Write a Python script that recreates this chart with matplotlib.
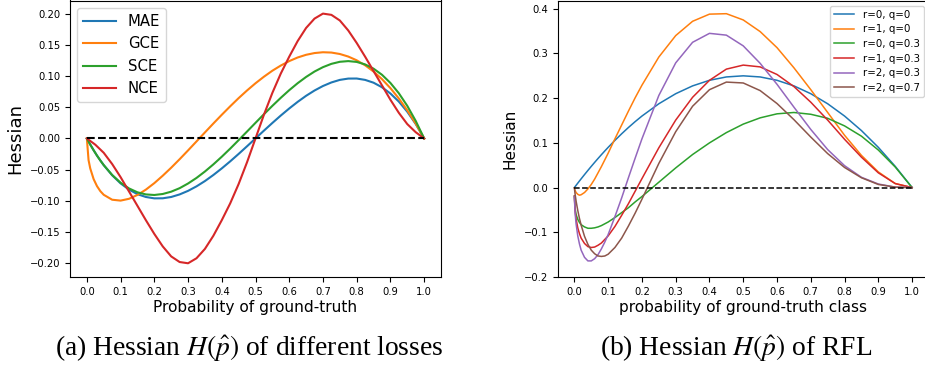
import numpy as np
import matplotlib
matplotlib.use("Agg")
import matplotlib.pyplot as plt

plt.rcParams['mathtext.fontset'] = 'stix'

# (a) Hessian of the different losses
p_left = [0.0, 0.005, 0.01, 0.02, 0.03, 0.04, 0.05, 0.075, 0.1, 0.125, 0.15, 0.175,
          0.2, 0.225, 0.25, 0.275, 0.3, 0.325, 0.35, 0.375, 0.4, 0.425, 0.45, 0.475,
          0.5, 0.525, 0.55, 0.575, 0.6, 0.625, 0.65, 0.675, 0.7, 0.725, 0.75, 0.775,
          0.8, 0.825, 0.85, 0.875, 0.9, 0.925, 0.95, 0.975, 1.0]
mae = [0.0, -0.0049, -0.0097, -0.0188, -0.0274, -0.0353, -0.0428, -0.0590, -0.0720,
       -0.0820, -0.0893, -0.0938, -0.0960, -0.0959, -0.0938, -0.0897, -0.0840, -0.0768,
       -0.0683, -0.0586, -0.0480, -0.0367, -0.0248, -0.0125, 0.0, 0.0125, 0.0248,
       0.0367, 0.0480, 0.0586, 0.0683, 0.0768, 0.0840, 0.0897, 0.0938, 0.0959, 0.0960,
       0.0938, 0.0893, 0.0820, 0.0720, 0.0590, 0.0428, 0.0232, 0.0]
gce = [0.0, -0.0347, -0.0480, -0.0651, -0.0764, -0.0845, -0.0903, -0.0982, -0.0996,
       -0.0967, -0.0905, -0.0820, -0.0716, -0.0597, -0.0469, -0.0333, -0.0192, -0.0048,
       0.0096, 0.0239, 0.0379, 0.0515, 0.0646, 0.0769, 0.0884, 0.0989, 0.1085, 0.1168,
       0.1239, 0.1297, 0.1340, 0.1368, 0.1381, 0.1376, 0.1353, 0.1312, 0.1252, 0.1172,
       0.1072, 0.0950, 0.0806, 0.0640, 0.0451, 0.0238, 0.0]
sce = [0.0, -0.0050, -0.0098, -0.0189, -0.0275, -0.0354, -0.0427, -0.0585, -0.0709,
       -0.0801, -0.0863, -0.0897, -0.0906, -0.0890, -0.0853, -0.0797, -0.0722, -0.0633,
       -0.0530, -0.0416, -0.0293, -0.0163, -0.0027, 0.0111, 0.0250, 0.0388, 0.0522,
       0.0651, 0.0773, 0.0885, 0.0985, 0.1072, 0.1142, 0.1195, 0.1228, 0.1239, 0.1226,
       0.1186, 0.1118, 0.1020, 0.0889, 0.0724, 0.0522, 0.0281, 0.0]
p_nce = [0.0, 0.025, 0.05, 0.075, 0.1, 0.125, 0.15, 0.175, 0.2, 0.225, 0.25, 0.275,
         0.3, 0.325, 0.35, 0.375, 0.4, 0.425, 0.45, 0.475, 0.5, 0.525, 0.55, 0.575,
         0.6, 0.625, 0.65, 0.675, 0.7, 0.725, 0.75, 0.775, 0.8, 0.825, 0.85, 0.875,
         0.9, 0.925, 0.95, 0.975, 1.0]
nce = [0.0, -0.010, -0.023, -0.041, -0.062, -0.085, -0.108, -0.131, -0.153, -0.173,
       -0.189, -0.198, -0.200, -0.192, -0.177, -0.156, -0.131, -0.104, -0.073, -0.038,
       0.0, 0.038, 0.073, 0.104, 0.131, 0.156, 0.177, 0.192, 0.200, 0.198, 0.189,
       0.173, 0.153, 0.131, 0.108, 0.085, 0.062, 0.041, 0.023, 0.010, 0.0]
labels_left = ["MAE", "GCE", "SCE", "NCE"]

# (b) Hessian of RFL for some (r, q)
p_right = [0.0, 0.002, 0.005, 0.01, 0.015, 0.02, 0.03, 0.04, 0.05, 0.06, 0.07, 0.08,
           0.09, 0.1, 0.12, 0.14, 0.16, 0.18, 0.2, 0.25, 0.3, 0.35, 0.4, 0.45, 0.5,
           0.55, 0.6, 0.65, 0.7, 0.75, 0.8, 0.85, 0.9, 0.95, 1.0]
r0_q0 = [0.0, 0.002, 0.005, 0.0099, 0.0148, 0.0196, 0.0291, 0.0384, 0.0475, 0.0564,
         0.0651, 0.0736, 0.0819, 0.090, 0.1056, 0.1204, 0.1344, 0.1476, 0.160, 0.1875,
         0.210, 0.2275, 0.240, 0.2475, 0.250, 0.2475, 0.240, 0.2275, 0.210, 0.1875,
         0.160, 0.1275, 0.090, 0.0475, 0.0]
r1_q0 = [-0.001, -0.006, -0.011, -0.015, -0.017, -0.016, -0.011, -0.003, 0.007, 0.019,
         0.033, 0.047, 0.062, 0.077, 0.109, 0.140, 0.171, 0.201, 0.229, 0.292, 0.340,
         0.372, 0.388, 0.389, 0.375, 0.349, 0.313, 0.268, 0.219, 0.168, 0.117, 0.072,
         0.035, 0.009, 0.0]
r0_q03 = [-0.019, -0.046, -0.060, -0.071, -0.078, -0.083, -0.088, -0.091, -0.091,
          -0.090, -0.088, -0.085, -0.081, -0.077, -0.067, -0.056, -0.045, -0.032,
          -0.020, 0.012, 0.044, 0.074, 0.100, 0.123, 0.142, 0.156, 0.165, 0.168, 0.164,
          0.155, 0.138, 0.115, 0.084, 0.046, 0.0]
r1_q03 = [-0.019, -0.051, -0.070, -0.090, -0.103, -0.113, -0.125, -0.132, -0.134,
          -0.133, -0.129, -0.124, -0.116, -0.108, -0.087, -0.062, -0.036, -0.008, 0.020,
          0.089, 0.151, 0.202, 0.240, 0.265, 0.274, 0.270, 0.253, 0.226, 0.191, 0.151,
          0.108, 0.068, 0.033, 0.009, 0.0]
r2_q03 = [-0.020, -0.056, -0.081, -0.108, -0.126, -0.140, -0.156, -0.164, -0.164,
          -0.159, -0.150, -0.137, -0.122, -0.105, -0.065, -0.023, 0.022, 0.066, 0.109,
          0.206, 0.279, 0.325, 0.345, 0.341, 0.317, 0.278, 0.231, 0.180, 0.130, 0.085,
          0.049, 0.023, 0.008, 0.001, 0.0]
r2_q07 = [-0.001, -0.014, -0.030, -0.051, -0.069, -0.084, -0.109, -0.127, -0.140,
          -0.148, -0.153, -0.154, -0.153, -0.149, -0.134, -0.113, -0.086, -0.057,
          -0.026, 0.054, 0.125, 0.182, 0.219, 0.236, 0.234, 0.217, 0.188, 0.152, 0.113,
          0.076, 0.045, 0.022, 0.007, 0.001, 0.0]
series_right = [r0_q0, r1_q0, r0_q03, r1_q03, r2_q03, r2_q07]
labels_right = ["r=0, q=0", "r=1, q=0", "r=0, q=0.3", "r=1, q=0.3", "r=2, q=0.3",
                "r=2, q=0.7"]

xticks = np.arange(0, 1.01, 0.1)

fig = plt.figure(figsize=(9.25, 3.69), dpi=100)
ax1 = fig.add_axes([70/925, 92/369, 371/925, 276.5/369])
ax2 = fig.add_axes([557.5/925, 92/369, 371.5/925, 276.5/369])

# panel (a)
lw1 = 1.5
ax1.plot(p_left, mae, lw=lw1, label=labels_left[0])
ax1.plot(p_left, gce, lw=lw1, label=labels_left[1])
ax1.plot(p_left, sce, lw=lw1, label=labels_left[2])
ax1.plot(p_nce, nce, lw=lw1, label=labels_left[3])
ax1.plot([0, 1], [0, 0], 'k--', lw=lw1)
ax1.set_xlim(-0.05, 1.05)
ax1.set_ylim(-0.222, 0.221)
ax1.set_xticks(xticks)
ax1.set_yticks(np.arange(-0.2, 0.201, 0.05))
ax1.tick_params(labelsize=7.2)
ax1.set_xlabel("Probability of ground-truth", fontsize=11.1, labelpad=2.5)
ax1.set_ylabel("Hessian", fontsize=13)
ax1.legend(loc="upper left", fontsize=10.7, labelspacing=0.5, handlelength=2.2)

# panel (b)
lw2 = 1.1
for s, lab in zip(series_right, labels_right):
    ax2.plot(p_right, s, lw=lw2, label=lab)
ax2.plot([0, 1], [0, 0], 'k--', lw=lw2)
ax2.set_xlim(-0.05, 1.05)
ax2.set_ylim(-0.2, 0.4185)
ax2.set_xticks(xticks)
ax2.tick_params(labelsize=7.2)
ax2.set_xlabel("probability of ground-truth class", fontsize=11.1, labelpad=2.5)
ax2.set_ylabel("Hessian", fontsize=11)
ax2.legend(loc="upper right", fontsize=7.4, labelspacing=0.45)

# captions
fig.text(249/925, 1 - 355/369, r'(a) Hessian $H\left(\hat{p}\right)$ of different losses',
         family='Liberation Serif', fontsize=19.8, ha='center', va='baseline')
fig.text(736.6/925, 1 - 355/369, r'(b) Hessian $H\left(\hat{p}\right)$ of RFL',
         family='Liberation Serif', fontsize=19.8, ha='center', va='baseline')

fig.savefig("out.png", dpi=100)
